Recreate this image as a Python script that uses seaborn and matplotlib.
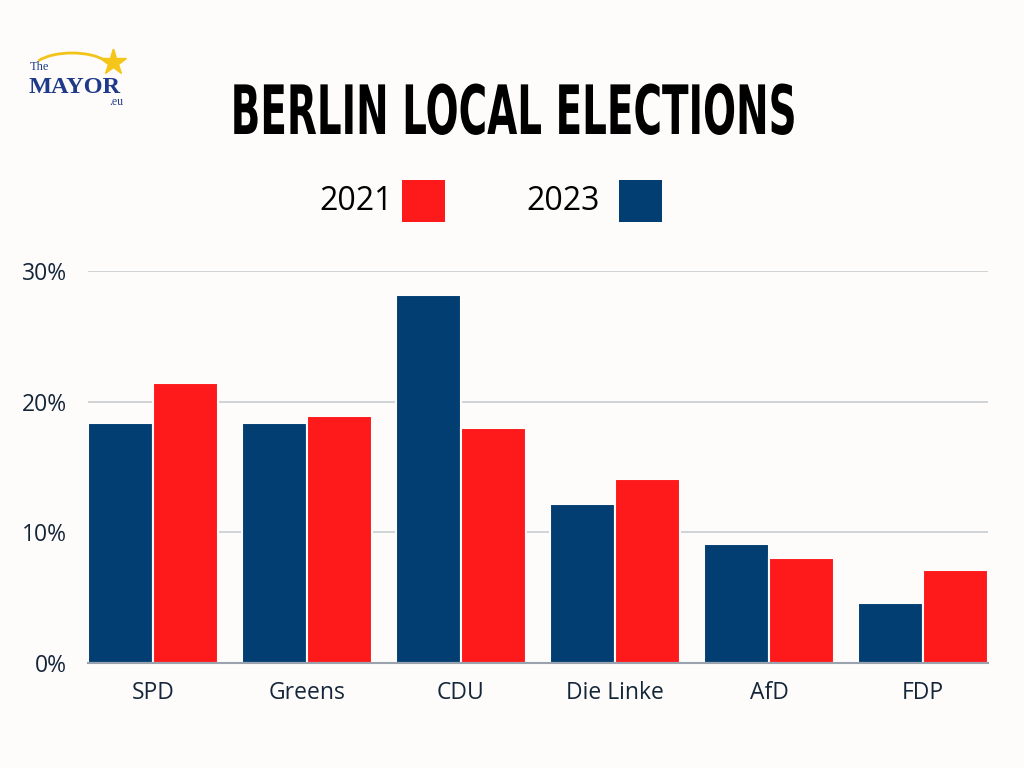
import numpy as np
import pandas as pd
import seaborn as sns
import matplotlib.pyplot as plt
from matplotlib.patches import Rectangle, Arc
from matplotlib.patheffects import AbstractPathEffect
from matplotlib.transforms import Affine2D

## data
parties = ['SPD', 'Greens', 'CDU', 'Die Linke', 'AfD', 'FDP']
share_2023 = [18.4, 18.4, 28.2, 12.2, 9.1, 4.6]
share_2021 = [21.4, 18.9, 18.0, 14.1, 8.0, 7.1]
years = ['2023', '2021']
y_ticks = [0, 10, 20, 30]

df = pd.DataFrame({
    'party': parties * 2,
    'year': ['2023'] * len(parties) + ['2021'] * len(parties),
    'share': share_2023 + share_2021,
})


# stretches text glyphs vertically (poster-style condensed title)
class Stretch(AbstractPathEffect):
    def __init__(self, sy):
        super().__init__()
        self.sy = sy

    def draw_path(self, renderer, gc, tpath, affine, rgbFace=None):
        renderer.draw_path(gc, tpath, Affine2D().scale(1, self.sy) + affine, rgbFace)


## style
bg = '#fdfcfa'
navy = '#023e71'
red = '#fe191b'
ink = '#16263a'
sns.set_theme(style='white')
plt.rcParams['font.family'] = ['Open Sans', 'DejaVu Sans']

fig = plt.figure(figsize=(10.24, 7.68), dpi=100, facecolor=bg)
ax = fig.add_axes([88 / 1024, 1 - 663 / 768, 900 / 1024, (663 - 271) / 768])
ax.set_facecolor(bg)

sns.barplot(data=df, x='party', y='share', hue='year', hue_order=years,
            palette={'2023': navy, '2021': red}, width=0.844, dodge=True,
            edgecolor=bg, linewidth=1.5, saturation=1, legend=False, ax=ax)

ax.set_xlim(-0.422, 5.422)
ax.set_ylim(0, 30)
ax.set_yticks(y_ticks)
ax.set_yticklabels([f'{t}%' for t in y_ticks])
ax.yaxis.grid(True, color='#c9ccd0', linewidth=1.2)
ax.set_axisbelow(True)
ax.tick_params(axis='y', length=0, pad=15, labelsize=16.5, labelcolor=ink)
ax.tick_params(axis='x', length=0, pad=13, labelsize=16.5, labelcolor=ink)
ax.set_xlabel('')
ax.set_ylabel('')
for side in ['top', 'right', 'left']:
    ax.spines[side].set_visible(False)
ax.spines['bottom'].set_color('#9aa3ad')
ax.spines['bottom'].set_linewidth(1.5)
ax.spines['bottom'].set_zorder(5)

## title
fig.text(514 / 1024, 1 - 134 / 768, 'BERLIN LOCAL ELECTIONS', ha='center', va='baseline',
         fontsize=28, fontweight='bold', family='DejaVu Sans', color='black',
         path_effects=[Stretch(1.75)])

## legend
fig.text(393 / 1024, 1 - 201 / 768, '2021', ha='right', va='center', fontsize=23, color='black')
fig.patches.append(Rectangle((402 / 1024, 1 - 222 / 768), 43 / 1024, 42 / 768,
                             transform=fig.transFigure, facecolor=red, edgecolor='none'))
fig.text(600 / 1024, 1 - 201 / 768, '2023', ha='right', va='center', fontsize=23, color='black')
fig.patches.append(Rectangle((619 / 1024, 1 - 222 / 768), 43 / 1024, 42 / 768,
                             transform=fig.transFigure, facecolor=navy, edgecolor='none'))

## logo
logo_blue = '#1f3a8a'
serif = ['Liberation Serif', 'DejaVu Serif']
fig.text(30 / 1024, 1 - 70 / 768, 'The', fontsize=9, family=serif, color=logo_blue, va='baseline')
fig.text(29 / 1024, 1 - 93 / 768, 'MAYOR', fontsize=17.5, fontweight='bold', family=serif,
         color=logo_blue, va='baseline')
fig.text(123 / 1024, 1 - 105 / 768, '.eu', fontsize=8.5, family=serif, color=logo_blue,
         va='baseline', ha='right')
fig.patches.append(Arc((72 / 1024, 1 - 70 / 768), 80 / 1024, 34 / 768, theta1=20, theta2=160,
                       transform=fig.transFigure, color='#f2c31a', linewidth=2))
logo_ax = fig.add_axes([100 / 1024, 1 - 75 / 768, 26 / 1024, 26 / 768])
logo_ax.plot([0], [0], marker='*', markersize=20, color='#f5c518', markeredgecolor='#f5c518')
logo_ax.set_axis_off()

fig.savefig('out.png', dpi=100, facecolor=bg)
